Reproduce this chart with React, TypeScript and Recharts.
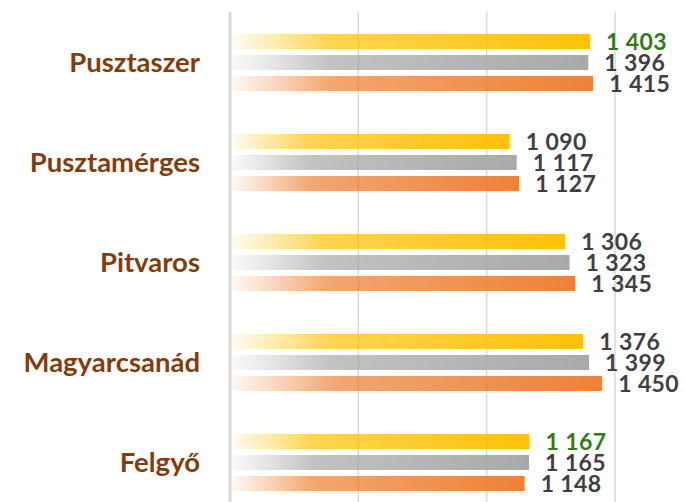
import React from "react";
import { BarChart, Bar, XAxis, YAxis, CartesianGrid, LabelList } from "recharts";

const categories = ["Pusztaszer", "Pusztamérges", "Pitvaros", "Magyarcsanád", "Felgyő"];
const series1 = [1403, 1090, 1306, 1376, 1167];
const series2 = [1396, 1117, 1323, 1399, 1165];
const series3 = [1415, 1127, 1345, 1450, 1148];
// first-series labels shown in green
const highlighted = ["Pusztaszer", "Felgyő"];
const xTicks = [0, 500, 1000, 1500];

const data = categories.map((name, i) => ({
  name,
  s1: series1[i],
  s2: series2[i],
  s3: series3[i],
}));

const FONT = "Lato, 'Open Sans', sans-serif";

const fmt = (v: number) => {
  const s = String(v);
  return s.length > 3 ? s.slice(0, s.length - 3) + " " + s.slice(-3) : s;
};

function makeLabel(green: boolean) {
  return (props: any) => {
    const { x, y, width, height, value, index } = props;
    const isGreen = green && highlighted.includes(categories[index]);
    return (
      <text
        x={x + width + 16}
        y={y + height / 2}
        dy="0.36em"
        textAnchor="start"
        fontFamily={FONT}
        fontWeight={700}
        fontSize={23}
        letterSpacing={0.4}
        fill={isGreen ? "#2F7D14" : "#404040"}
      >
        {fmt(value)}
      </text>
    );
  };
}

function Grad({ id, color }: { id: string; color: string }) {
  return (
    <linearGradient id={id} x1="0" y1="0" x2="1" y2="0">
      <stop offset="0%" stopColor={color} stopOpacity={0.04} />
      <stop offset="12%" stopColor={color} stopOpacity={0.3} />
      <stop offset="28%" stopColor={color} stopOpacity={0.68} />
      <stop offset="100%" stopColor={color} stopOpacity={0.97} />
    </linearGradient>
  );
}

export default function App() {
  return (
    <div style={{ position: "absolute", left: 0, top: 0, background: "#fff" }}>
      <BarChart
        width={684}
        height={513}
        data={data}
        layout="vertical"
        margin={{ top: 12, right: 69, bottom: 1, left: 0 }}
        barSize={15}
        barGap={6}
      >
        <defs>
          <Grad id="gY" color="#FFC000" />
          <Grad id="gG" color="#A6A6A6" />
          <Grad id="gO" color="#ED7D31" />
        </defs>
        <CartesianGrid horizontal={false} stroke="#D9D9D9" strokeWidth={1.5} />
        <XAxis type="number" domain={[0, 1500]} ticks={xTicks} hide />
        <YAxis
          type="category"
          dataKey="name"
          width={230}
          axisLine={{ stroke: "#D9D9D9", strokeWidth: 3 }}
          tickLine={false}
          tickSize={0}
          tickMargin={30}
          tick={{ fill: "#843C0C", fontSize: 27.5, fontWeight: 700, fontFamily: FONT }}
        />
        <Bar dataKey="s1" fill="url(#gY)" isAnimationActive={false}>
          <LabelList dataKey="s1" content={makeLabel(true)} />
        </Bar>
        <Bar dataKey="s2" fill="url(#gG)" isAnimationActive={false}>
          <LabelList dataKey="s2" content={makeLabel(false)} />
        </Bar>
        <Bar dataKey="s3" fill="url(#gO)" isAnimationActive={false}>
          <LabelList dataKey="s3" content={makeLabel(false)} />
        </Bar>
      </BarChart>
    </div>
  );
}
